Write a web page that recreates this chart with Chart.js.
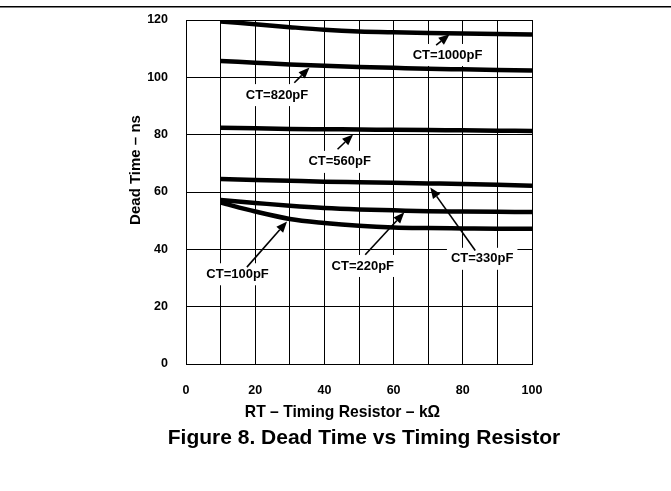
<!DOCTYPE html>
<html>
<head>
<meta charset="utf-8">
<script src="https://cdn.jsdelivr.net/npm/chart.js@4.4.1/dist/chart.umd.min.js"></script>
<style>
  html, body { margin: 0; padding: 0; background: #fff; }
  #wrap { position: relative; width: 671px; height: 491px; }
</style>
</head>
<body>
<div id="wrap"><canvas id="deadTimeChart" width="671" height="491"></canvas></div>
<script>
// RT in kOhm
const rt = [10, 20, 30, 40, 50, 60, 70, 80, 90, 100];

// dead time in ns, one curve per timing capacitor
const ct1000 = [119.5, 118.5, 117.5, 116.6, 116.0, 115.7, 115.5, 115.3, 115.1, 114.9];
const ct820 = [105.7, 105.1, 104.5, 104.0, 103.6, 103.3, 103.0, 102.8, 102.6, 102.4];
const ct560 = [82.4, 82.2, 82.0, 81.9, 81.8, 81.7, 81.6, 81.5, 81.4, 81.3];
const ct330 = [64.5, 64.2, 63.9, 63.6, 63.4, 63.2, 63.0, 62.8, 62.5, 62.2];
const ct220 = [57.2, 56.2, 55.2, 54.4, 53.9, 53.6, 53.3, 53.2, 53.1, 53.0];
const ct100 = [56.3, 53.2, 50.6, 49.2, 48.2, 47.6, 47.4, 47.3, 47.2, 47.2];

const xTicks = [0, 20, 40, 60, 80, 100];
const yTicks = [0, 20, 40, 60, 80, 100, 120];

const curveLabels = ['CT=1000pF', 'CT=820pF', 'CT=560pF', 'CT=330pF', 'CT=220pF', 'CT=100pF'];

// callouts: label centre, arrow tail, arrow head (in chart units)
const callouts = [
    { text: 'CT=1000pF', at: [75.6, 107.8], from: [72.3, 111.2], to: [76.2, 115.0] },
    { text: 'CT=820pF', at: [26.3, 93.8], from: [31.3, 98.1], to: [35.7, 103.4] },
    { text: 'CT=560pF', at: [44.4, 70.5], from: [43.8, 74.9], to: [48.3, 80.1] },
    { text: 'CT=330pF', at: [85.6, 36.7], from: [83.6, 39.6], to: [70.6, 61.6] },
    { text: 'CT=220pF', at: [51.1, 34.2], from: [51.8, 38.1], to: [63.1, 52.9] },
    { text: 'CT=100pF', at: [14.9, 31.3], from: [17.6, 33.8], to: [29.2, 49.7] }
];

const FONT = "'Liberation Sans', Arial, Helvetica, sans-serif";

const series = [ct1000, ct820, ct560, ct330, ct220, ct100];

const calloutPlugin = {
    id: 'callouts',
    beforeDatasetsDraw(chart) {
        const { ctx, scales: { x, y } } = chart;
        ctx.save();
        ctx.font = 'bold 13px ' + FONT;
        callouts.forEach(c => {
            const w = ctx.measureText(c.text).width;
            const cx = x.getPixelForValue(c.at[0]);
            const cy = y.getPixelForValue(c.at[1]);
            ctx.fillStyle = '#fff';
            ctx.fillRect(cx - w / 2 - 4, cy - 11, w + 8, 22);
        });
        ctx.restore();
    },
    afterDatasetsDraw(chart) {
        const { ctx, scales: { x, y } } = chart;
        ctx.save();
        ctx.font = 'bold 13px ' + FONT;
        ctx.fillStyle = '#000';
        ctx.strokeStyle = '#000';
        ctx.textAlign = 'center';
        ctx.textBaseline = 'middle';
        callouts.forEach(c => {
            ctx.fillText(c.text, x.getPixelForValue(c.at[0]), y.getPixelForValue(c.at[1]));

            const x1 = x.getPixelForValue(c.from[0]), y1 = y.getPixelForValue(c.from[1]);
            const x2 = x.getPixelForValue(c.to[0]), y2 = y.getPixelForValue(c.to[1]);
            const ang = Math.atan2(y2 - y1, x2 - x1);
            const headLen = 11, headW = 4.5;
            const bx = x2 - headLen * Math.cos(ang), by = y2 - headLen * Math.sin(ang);

            ctx.lineWidth = 1.6;
            ctx.beginPath();
            ctx.moveTo(x1, y1);
            ctx.lineTo(bx, by);
            ctx.stroke();

            ctx.beginPath();
            ctx.moveTo(x2, y2);
            ctx.lineTo(bx + headW * Math.sin(ang), by - headW * Math.cos(ang));
            ctx.lineTo(bx - headW * Math.sin(ang), by + headW * Math.cos(ang));
            ctx.closePath();
            ctx.fill();
        });
        ctx.restore();
    },
    afterDraw(chart) {
        const ctx = chart.ctx;
        ctx.save();
        // rule across the top of the page
        ctx.fillStyle = '#000';
        ctx.fillRect(0, 6, 671, 1.5);

        ctx.textAlign = 'center';
        ctx.textBaseline = 'middle';

        ctx.font = 'bold 15.7px ' + FONT;
        ctx.fillText('RT \u2013 Timing Resistor \u2013 k\u03A9', 342.5, 413);

        ctx.save();
        ctx.translate(136, 170);
        ctx.rotate(-Math.PI / 2);
        ctx.font = 'bold 15px ' + FONT;
        ctx.fillText('Dead Time \u2013 ns', 0, 0);
        ctx.restore();

        ctx.font = 'bold 21px ' + FONT;
        ctx.fillText('Figure 8. Dead Time vs Timing Resistor', 364, 438);
        ctx.restore();
    }
};

new Chart(document.getElementById('deadTimeChart'), {
    type: 'line',
    data: {
        datasets: series.map((vals, i) => ({
            label: curveLabels[i],
            data: rt.map((r, j) => ({ x: r, y: vals[j] })),
            borderColor: '#000',
            borderWidth: 4.5,
            pointRadius: 0,
            fill: false,
            cubicInterpolationMode: 'monotone'
        }))
    },
    options: {
        responsive: false,
        animation: false,
        layout: { padding: { left: 120, right: 139, top: 20, bottom: 87 } },
        plugins: {
            legend: { display: false },
            tooltip: { enabled: false }
        },
        scales: {
            x: {
                type: 'linear',
                min: 0,
                max: 100,
                afterFit: s => { s.height = 40; },
                afterBuildTicks: s => { s.ticks = [0].concat(rt).map(v => ({ value: v })); },
                grid: { color: '#000', lineWidth: 1, drawTicks: false },
                border: { color: '#000', width: 1 },
                ticks: {
                    autoSkip: false,
                    maxRotation: 0,
                    padding: 19,
                    color: '#000',
                    font: { family: FONT, size: 12.5, weight: 'bold' },
                    callback: v => xTicks.includes(v) ? String(v) : ''
                }
            },
            y: {
                min: 0,
                max: 120,
                // tick padding would otherwise be added above the axis too
                afterFit: s => { s.width = 66; s.paddingTop = 8; s.paddingBottom = 8; },
                afterBuildTicks: s => { s.ticks = yTicks.map(v => ({ value: v })); },
                grid: { color: '#000', lineWidth: 1, drawTicks: false },
                border: { color: '#000', width: 1 },
                ticks: {
                    padding: 18,
                    color: '#000',
                    font: { family: FONT, size: 12.5, weight: 'bold' }
                }
            }
        }
    },
    plugins: [calloutPlugin]
});
</script>
</body>
</html>
